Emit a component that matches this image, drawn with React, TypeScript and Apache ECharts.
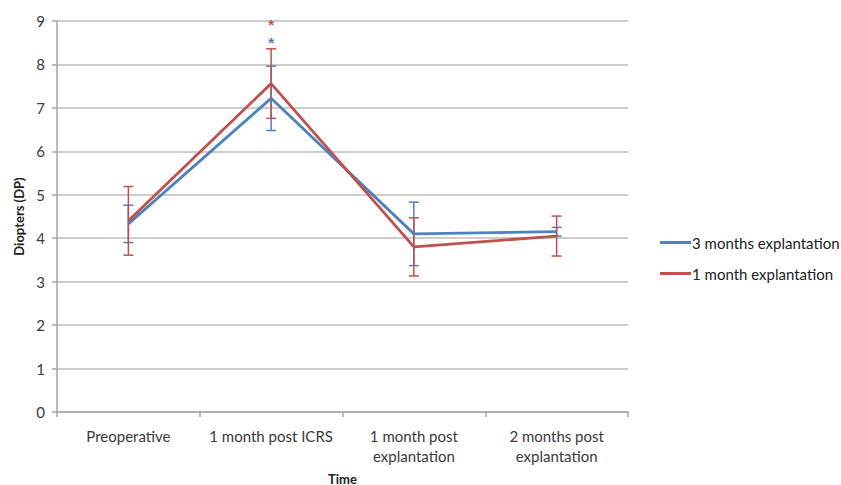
import React, { useEffect, useRef } from "react";
import * as echarts from "echarts";

const categories = ["Preoperative", "1 month post ICRS", "1 month post\nexplantation", "2 months post\nexplantation"];
const yTicks = [0, 1, 2, 3, 4, 5, 6, 7, 8, 9];
const seriesNames = ["3 months explantation", "1 month explantation"];
const blueMean = [4.33, 7.22, 4.1, 4.15];
const blueErr = [0.43, 0.74, 0.73, 0.1];
const redMean = [4.4, 7.56, 3.8, 4.05];
const redErr = [0.79, 0.8, 0.67, 0.46];
// significance markers: [category index, y value]
const blueStars = [[1, 8.6]];
const redStars = [[1, 9.02]];

const BLUE = "#4F81BD";
const RED = "#C0504D";
const FONT = "Lato";

function errorSeries(name: string, mean: number[], err: number[], color: string) {
  return {
    type: "custom",
    name: name + " err",
    z: 3,
    data: mean.map((m, i) => [i, m - err[i], m + err[i]]),
    renderItem: (params: any, api: any) => {
      const x = api.value(0);
      const lo = api.coord([x, api.value(1)]);
      const hi = api.coord([x, api.value(2)]);
      const hw = 5;
      const style = { stroke: color, lineWidth: 1.5 };
      return {
        type: "group",
        children: [
          { type: "line", shape: { x1: lo[0], y1: lo[1], x2: hi[0], y2: hi[1] }, style },
          { type: "line", shape: { x1: lo[0] - hw, y1: lo[1], x2: lo[0] + hw, y2: lo[1] }, style },
          { type: "line", shape: { x1: hi[0] - hw, y1: hi[1], x2: hi[0] + hw, y2: hi[1] }, style },
        ],
      };
    },
    encode: { x: 0, y: [1, 2] },
    silent: true,
  };
}

function starSeries(name: string, pts: number[][], color: string) {
  return {
    type: "custom",
    name: name + " star",
    z: 4,
    data: pts,
    renderItem: (params: any, api: any) => {
      const p = api.coord([api.value(0), api.value(1)]);
      return {
        type: "text",
        x: p[0],
        y: p[1] + 4,
        style: { text: "*", fill: color, font: "bold 15px Arial", align: "center", verticalAlign: "middle" },
      };
    },
    encode: { x: 0, y: 1 },
    silent: true,
  };
}

export default function App() {
  const ref = useRef<HTMLDivElement>(null);
  useEffect(() => {
    document.body.style.margin = "0";
    if (!ref.current) return;
    const chart = echarts.init(ref.current, null, { renderer: "svg" });
    chart.setOption({
      animation: false,
      backgroundColor: "#ffffff",
      grid: { left: 57, right: 213, top: 21, bottom: 73, outerBoundsMode: "none", containLabel: false },
      legend: {
        orient: "vertical",
        left: 655,
        top: 230,
        itemGap: 16,
        itemWidth: 31,
        itemHeight: 3,
        icon: "rect",
        data: seriesNames,
        textStyle: { fontFamily: FONT, fontSize: 15, color: "#222", padding: [0, 0, 0, -4] },
      },
      xAxis: {
        type: "category",
        data: categories,
        boundaryGap: true,
        name: "Time",
        nameLocation: "middle",
        nameGap: 60,
        nameTextStyle: { fontFamily: FONT, fontWeight: "bold", fontSize: 13, color: "#222" },
        axisLine: { lineStyle: { color: "#a6a6a6", width: 1.5 } },
        axisTick: { show: true, length: 5, lineStyle: { color: "#a6a6a6", width: 1.5 } },
        axisLabel: { fontFamily: FONT, fontSize: 15, color: "#3a3a3a", margin: 14, lineHeight: 20, interval: 0 },
      },
      yAxis: {
        type: "value",
        min: 0,
        max: 9,
        interval: 1,
        name: "Diopters (DP)",
        nameLocation: "middle",
        nameGap: 32,
        nameRotate: 90,
        nameTextStyle: { fontFamily: FONT, fontWeight: "bold", fontSize: 13, color: "#222" },
        axisLine: { show: true, lineStyle: { color: "#a6a6a6", width: 1.5 } },
        axisTick: { show: true, length: 5, lineStyle: { color: "#a6a6a6", width: 1.5 } },
        axisLabel: {
          fontFamily: FONT,
          fontSize: 15,
          color: "#3a3a3a",
          margin: 12,
          formatter: (v: number) => (yTicks.includes(v) ? String(v) : ""),
        },
        splitLine: { lineStyle: { color: "#bdbdbd", width: 1.5 } },
      },
      series: [
        {
          name: seriesNames[0],
          type: "line",
          data: blueMean,
          symbol: "none",
          z: 5,
          lineStyle: { color: BLUE, width: 2.8 },
          itemStyle: { color: BLUE },
        },
        {
          name: seriesNames[1],
          type: "line",
          data: redMean,
          symbol: "none",
          z: 6,
          lineStyle: { color: RED, width: 2.8 },
          itemStyle: { color: RED },
        },
        errorSeries("blue", blueMean, blueErr, BLUE),
        errorSeries("red", redMean, redErr, RED),
        starSeries("blue", blueStars, BLUE),
        starSeries("red", redStars, RED),
      ],
    });
    return () => chart.dispose();
  }, []);
  return <div ref={ref} style={{ width: 841, height: 485 }} />;
}
